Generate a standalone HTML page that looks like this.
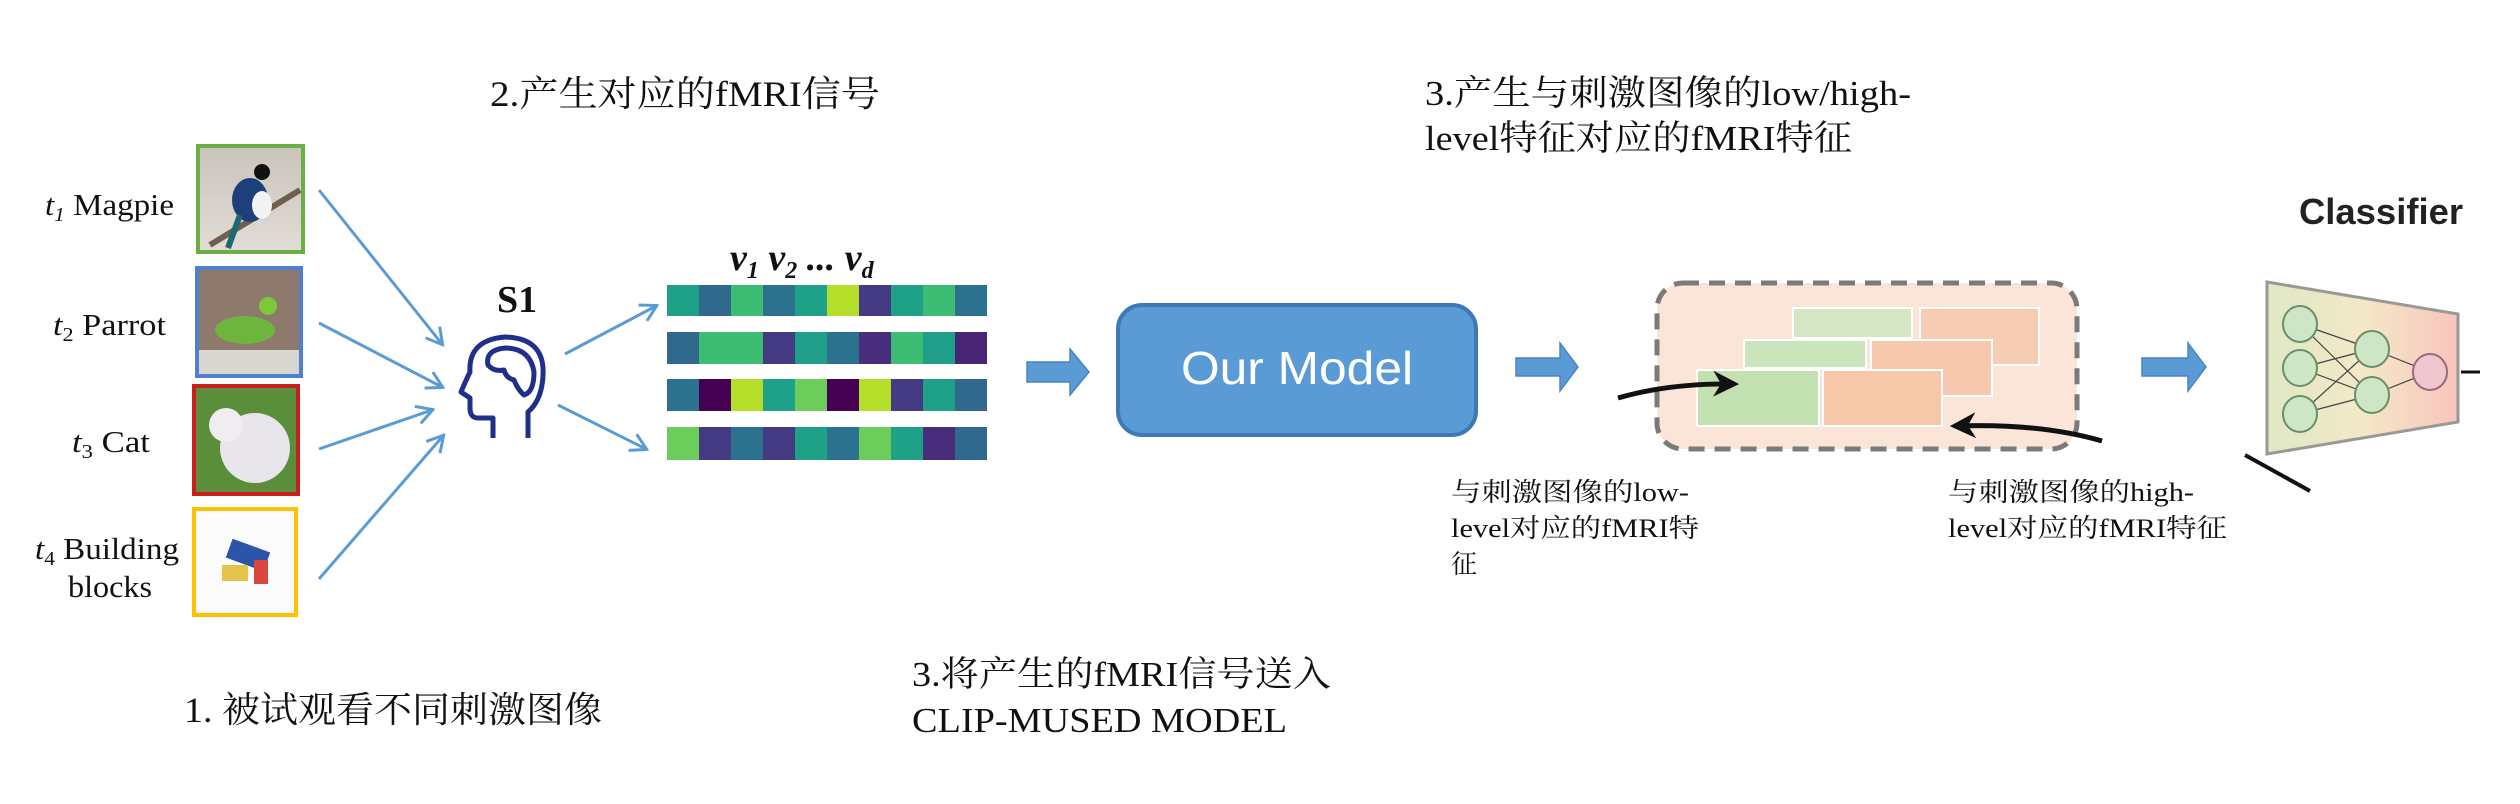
<!DOCTYPE html>
<html><head><meta charset="utf-8"><style>
html,body{margin:0;padding:0;background:#fff;}
svg{display:block;}
.s{font-family:"Liberation Serif","Noto Serif CJK SC",serif;fill:#111;}
</style></head><body>
<svg width="2520" height="804" viewBox="0 0 2520 804" xmlns="http://www.w3.org/2000/svg">
<defs>
<marker id="ah" viewBox="0 0 20 20" refX="17" refY="10" markerWidth="20" markerHeight="20" markerUnits="userSpaceOnUse" orient="auto">
<path d="M2,1 L18,10 L2,19" fill="none" stroke="#5b9bd5" stroke-width="3"/></marker>
<marker id="bh" viewBox="0 0 10 10" refX="8" refY="5" markerWidth="26" markerHeight="26" markerUnits="userSpaceOnUse" orient="auto">
<path d="M0,0 L10,5 L0,10 L3,5 Z" fill="#111"/></marker>
<linearGradient id="cg" x1="0" y1="0" x2="1" y2="0"><stop offset="0" stop-color="#dfe8c4"/><stop offset="0.5" stop-color="#f4e8c8"/><stop offset="1" stop-color="#f8c4bc"/></linearGradient>
<linearGradient id="sky" x1="0" y1="0" x2="0" y2="1"><stop offset="0" stop-color="#c9c3bc"/><stop offset="1" stop-color="#e2dcd6"/></linearGradient>
</defs>

<!-- titles -->
<text class="s" x="490" y="106" font-size="36" textLength="390" lengthAdjust="spacingAndGlyphs">2.产生对应的fMRI信号</text>
<text class="s" x="1425" y="105" font-size="35" textLength="486" lengthAdjust="spacingAndGlyphs">3.产生与刺激图像的low/high-</text>
<text class="s" x="1425" y="150" font-size="35" textLength="427" lengthAdjust="spacingAndGlyphs">level特征对应的fMRI特征</text>
<text class="s" x="184" y="722" font-size="36" textLength="418" lengthAdjust="spacingAndGlyphs">1. 被试观看不同刺激图像</text>
<text class="s" x="912" y="686" font-size="35" textLength="419" lengthAdjust="spacingAndGlyphs">3.将产生的fMRI信号送入</text>
<text class="s" x="912" y="732" font-size="35" textLength="375" lengthAdjust="spacingAndGlyphs">CLIP-MUSED MODEL</text>

<!-- labels -->
<text class="s" x="45" y="215" font-size="31" textLength="129" lengthAdjust="spacingAndGlyphs"><tspan font-style="italic">t</tspan><tspan font-style="italic" font-size="20" dy="6">1</tspan><tspan dy="-6"> Magpie</tspan></text>
<text class="s" x="53" y="335" font-size="31" textLength="113" lengthAdjust="spacingAndGlyphs"><tspan font-style="italic">t</tspan><tspan font-size="20" dy="6">2</tspan><tspan dy="-6"> Parrot</tspan></text>
<text class="s" x="72" y="452" font-size="31" textLength="78" lengthAdjust="spacingAndGlyphs"><tspan font-style="italic">t</tspan><tspan font-size="20" dy="6">3</tspan><tspan dy="-6"> Cat</tspan></text>
<text class="s" x="35" y="559" font-size="31" textLength="144" lengthAdjust="spacingAndGlyphs"><tspan font-style="italic">t</tspan><tspan font-size="20" dy="6">4</tspan><tspan dy="-6"> Building</tspan></text>
<text class="s" x="68" y="597" font-size="31" textLength="84" lengthAdjust="spacingAndGlyphs">blocks</text>

<!-- images -->
<rect x="198" y="146" width="105" height="106" fill="url(#sky)" stroke="#6aae45" stroke-width="4"/>
<line x1="210" y1="245" x2="300" y2="190" stroke="#6e5f4e" stroke-width="6"/>
<ellipse cx="250" cy="200" rx="18" ry="22" fill="#1d3f7a"/><ellipse cx="262" cy="205" rx="10" ry="14" fill="#f2f2f2"/><circle cx="262" cy="172" r="8" fill="#111"/><line x1="240" y1="215" x2="228" y2="248" stroke="#1a6a70" stroke-width="6"/>

<rect x="197" y="268" width="104" height="108" fill="#8d7a6c" stroke="#4f7fcf" stroke-width="4"/>
<rect x="199" y="350" width="100" height="24" fill="#d9d6d2"/>
<ellipse cx="245" cy="330" rx="30" ry="14" fill="#6fb43c"/><circle cx="268" cy="306" r="9" fill="#7cc83a"/>

<rect x="194" y="386" width="104" height="108" fill="#5a8e3a" stroke="#c81e1e" stroke-width="4"/>
<ellipse cx="255" cy="448" rx="35" ry="35" fill="#e8e6ea"/><circle cx="226" cy="425" r="17" fill="#efedf0"/>

<rect x="194" y="509" width="102" height="106" fill="#fbfbfb" stroke="#ffc000" stroke-width="4"/>
<rect x="228" y="545" width="40" height="20" fill="#2a55a8" transform="rotate(20 248 555)"/>
<rect x="222" y="565" width="26" height="16" fill="#e5c24a"/><rect x="254" y="560" width="14" height="24" fill="#d8463e"/>

<!-- blue arrows -->
<g stroke="#5b9bd5" stroke-width="3" fill="none" marker-end="url(#ah)">
<line x1="319" y1="190" x2="442" y2="344"/>
<line x1="319" y1="323" x2="442" y2="387"/>
<line x1="319" y1="449" x2="432" y2="410"/>
<line x1="319" y1="579" x2="443" y2="436"/>
<line x1="565" y1="354" x2="656" y2="306"/>
<line x1="558" y1="405" x2="646" y2="449"/>
</g>

<!-- S1 head -->
<text class="s" x="497" y="312" font-size="38" font-weight="bold">S1</text>
<g fill="none" stroke="#1f2f8a" stroke-width="5" stroke-linejoin="round">
<path d="M493,438 L493,418 L478,418 Q470,418 470,408 L470,398 L461,392 Q466,380 470,372 Q468,340 505,337 Q545,338 543,375 Q542,400 528,412 L528,438"/>
<path d="M488,365 Q485,350 505,348 Q530,348 534,372 Q534,392 524,395 Q518,390 514,380 Q506,378 504,370 Q494,372 488,365 Z"/>
</g>

<!-- v labels -->
<text class="s" x="730" y="270" font-size="38" font-weight="bold" font-style="italic">v<tspan font-size="24" dy="8">1</tspan><tspan dy="-8"> v</tspan><tspan font-size="24" dy="8">2</tspan><tspan dy="-8"> ... v</tspan><tspan font-size="24" dy="8">d</tspan></text>

<!-- bars -->
<g>
<g transform="translate(667,285)">
<rect x="0" width="32" height="31" fill="#1fa187"/><rect x="32" width="32" height="31" fill="#31688e"/><rect x="64" width="32" height="31" fill="#3dbc74"/><rect x="96" width="32" height="31" fill="#2c728e"/><rect x="128" width="32" height="31" fill="#1fa187"/><rect x="160" width="32" height="31" fill="#b5de2b"/><rect x="192" width="32" height="31" fill="#443a83"/><rect x="224" width="32" height="31" fill="#1fa187"/><rect x="256" width="32" height="31" fill="#3dbc74"/><rect x="288" width="32" height="31" fill="#2c728e"/></g>
<g transform="translate(667,332)">
<rect x="0" width="32" height="32" fill="#31688e"/><rect x="32" width="32" height="32" fill="#3dbc74"/><rect x="64" width="32" height="32" fill="#3dbc74"/><rect x="96" width="32" height="32" fill="#443a83"/><rect x="128" width="32" height="32" fill="#1f9e89"/><rect x="160" width="32" height="32" fill="#2c728e"/><rect x="192" width="32" height="32" fill="#472d7b"/><rect x="224" width="32" height="32" fill="#3dbc74"/><rect x="256" width="32" height="32" fill="#1f9e89"/><rect x="288" width="32" height="32" fill="#482475"/></g>
<g transform="translate(667,379)">
<rect x="0" width="32" height="32" fill="#2c728e"/><rect x="32" width="32" height="32" fill="#440154"/><rect x="64" width="32" height="32" fill="#b5de2b"/><rect x="96" width="32" height="32" fill="#1fa187"/><rect x="128" width="32" height="32" fill="#6ccd5a"/><rect x="160" width="32" height="32" fill="#440154"/><rect x="192" width="32" height="32" fill="#b5de2b"/><rect x="224" width="32" height="32" fill="#443a83"/><rect x="256" width="32" height="32" fill="#1fa187"/><rect x="288" width="32" height="32" fill="#31688e"/></g>
<g transform="translate(667,427)">
<rect x="0" width="32" height="33" fill="#6ccd5a"/><rect x="32" width="32" height="33" fill="#443a83"/><rect x="64" width="32" height="33" fill="#2c728e"/><rect x="96" width="32" height="33" fill="#443a83"/><rect x="128" width="32" height="33" fill="#1fa187"/><rect x="160" width="32" height="33" fill="#2c728e"/><rect x="192" width="32" height="33" fill="#6ccd5a"/><rect x="224" width="32" height="33" fill="#1fa187"/><rect x="256" width="32" height="33" fill="#472d7b"/><rect x="288" width="32" height="33" fill="#31688e"/></g>
</g>

<!-- block arrows -->
<g fill="#5b9bd5" stroke="#4a85c0" stroke-width="1.5">
<path d="M1027,362 L1070,362 L1070,349 L1089,372 L1070,395 L1070,382 L1027,382 Z"/>
<path d="M1516,358 L1560,358 L1560,343 L1578,367 L1560,391 L1560,376 L1516,376 Z"/>
<path d="M2142,358 L2188,358 L2188,343 L2206,367 L2188,391 L2188,376 L2142,376 Z"/>
</g>

<!-- Our Model -->
<rect x="1118" y="305" width="358" height="130" rx="24" fill="#5b9bd5" stroke="#3f78b7" stroke-width="4"/>
<text x="1297" y="384" font-family="'Liberation Sans','Noto Sans CJK SC',sans-serif" font-size="46" fill="#fff" text-anchor="middle" textLength="232" lengthAdjust="spacingAndGlyphs">Our Model</text>

<!-- feature box -->
<rect x="1657" y="283" width="420" height="166" rx="26" fill="#fbe5d9" stroke="#7a7a7a" stroke-width="5" stroke-dasharray="16,10"/>
<g stroke="#fff" stroke-width="2">
<rect x="1793" y="308" width="119" height="30" fill="#d5e6c4"/>
<rect x="1920" y="308" width="119" height="57" fill="#f6cdb3"/>
<rect x="1744" y="340" width="122" height="28" fill="#cae4bb"/>
<rect x="1871" y="340" width="121" height="56" fill="#f6c9ae"/>
<rect x="1697" y="370" width="122" height="56" fill="#c3e0b0"/>
<rect x="1823" y="370" width="119" height="56" fill="#f6c7a8"/>
</g>
<path d="M1618,398 Q1670,383 1734,384" fill="none" stroke="#111" stroke-width="5" marker-end="url(#bh)"/>
<path d="M2102,441 Q2040,423 1955,426" fill="none" stroke="#111" stroke-width="5" marker-end="url(#bh)"/>

<text class="s" x="1451" y="501" font-size="26" textLength="238" lengthAdjust="spacingAndGlyphs">与刺激图像的low-</text>
<text class="s" x="1451" y="537" font-size="26" textLength="248" lengthAdjust="spacingAndGlyphs">level对应的fMRI特</text>
<text class="s" x="1451" y="573" font-size="26">征</text>
<text class="s" x="1948" y="501" font-size="26" textLength="246" lengthAdjust="spacingAndGlyphs">与刺激图像的high-</text>
<text class="s" x="1948" y="537" font-size="26" textLength="279" lengthAdjust="spacingAndGlyphs">level对应的fMRI特征</text>

<!-- classifier -->
<text x="2299" y="224" font-family="'Liberation Sans',sans-serif" font-weight="bold" font-size="36" fill="#222" textLength="164" lengthAdjust="spacingAndGlyphs">Classifier</text>
<path d="M2267,282 L2458,314 L2458,422 L2267,454 Z" fill="url(#cg)" stroke="#999" stroke-width="3"/>
<g stroke="#444" stroke-width="1.2">
<line x1="2300" y1="324" x2="2372" y2="349"/><line x1="2300" y1="324" x2="2372" y2="395"/>
<line x1="2300" y1="368" x2="2372" y2="349"/><line x1="2300" y1="368" x2="2372" y2="395"/>
<line x1="2300" y1="414" x2="2372" y2="349"/><line x1="2300" y1="414" x2="2372" y2="395"/>
<line x1="2372" y1="349" x2="2430" y2="372"/><line x1="2372" y1="395" x2="2430" y2="372"/>
</g>
<g stroke="#6a8f6a" stroke-width="2" fill="#cfe6c6">
<ellipse cx="2300" cy="324" rx="17" ry="18"/><ellipse cx="2300" cy="368" rx="17" ry="18"/><ellipse cx="2300" cy="414" rx="17" ry="18"/>
<ellipse cx="2372" cy="349" rx="17" ry="18"/><ellipse cx="2372" cy="395" rx="17" ry="18"/>
</g>
<ellipse cx="2430" cy="372" rx="17" ry="18" fill="#f1c7cf" stroke="#9a6a7a" stroke-width="2"/>
<line x1="2461" y1="372" x2="2480" y2="372" stroke="#111" stroke-width="3"/>
<line x1="2245" y1="455" x2="2310" y2="491" stroke="#111" stroke-width="4"/>
</svg>
</body></html>
